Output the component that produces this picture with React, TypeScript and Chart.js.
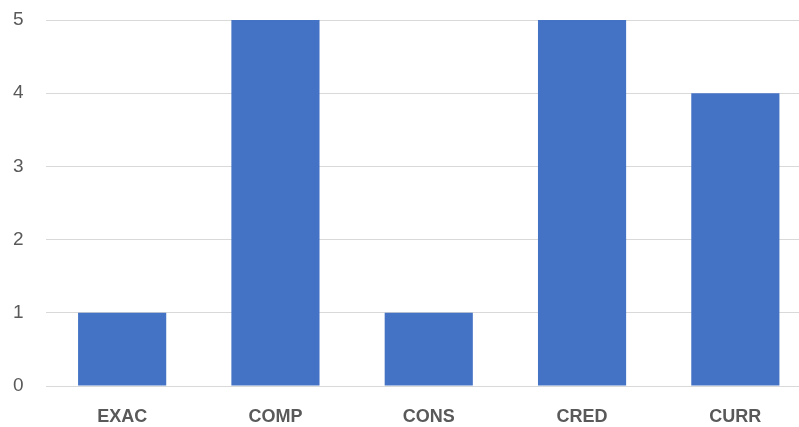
import React, { useEffect, useRef } from "react";
import { Chart, registerables } from "chart.js";

Chart.register(...registerables);

const categories = ["EXAC", "COMP", "CONS", "CRED", "CURR"];
const values = [1, 5, 1, 5, 4];
const yTicks = [0, 1, 2, 3, 4, 5];

export default function App() {
  const ref = useRef<HTMLCanvasElement | null>(null);
  useEffect(() => {
    document.body.style.margin = "0";
    document.body.style.overflow = "hidden";
    const chart = new Chart(ref.current!, {
      type: "bar",
      data: {
        labels: categories,
        datasets: [
          {
            data: values,
            backgroundColor: "#4472C4",
            barPercentage: 0.575,
            categoryPercentage: 1,
          },
        ],
      },
      options: {
        animation: false,
        responsive: false,
        maintainAspectRatio: false,
        layout: { padding: { top: 20, right: 0, left: 0, bottom: 0 } },
        plugins: { legend: { display: false }, tooltip: { enabled: false } },
        scales: {
          x: {
            grid: { display: false },
            border: { display: false },
            ticks: {
              color: "#595959",
              font: { family: "Liberation Sans", size: 18, weight: "bold" },
              padding: 12,
            },
            afterFit: (s: any) => {
              s.height = 41;
              s.paddingLeft = 0;
              s.paddingRight = 0;
            },
          },
          y: {
            min: 0,
            max: 5,
            afterBuildTicks: (s: any) => {
              s.ticks = yTicks.map((v) => ({ value: v }));
            },
            grid: { color: "#d9d9d9", lineWidth: 1, drawTicks: false },
            border: { display: false },
            ticks: {
              color: "#595959",
              font: { family: "Liberation Sans", size: 19 },
              padding: 22,
            },
            afterFit: (s: any) => {
              s.width = 45.5;
              s.paddingTop = 0;
              s.paddingBottom = 0;
            },
          },
        },
      },
    });
    return () => chart.destroy();
  }, []);
  return (
    <div style={{ position: "fixed", left: 0, top: 0, width: 799, height: 427, overflow: "hidden", background: "#fff" }}>
      <canvas ref={ref} width={812} height={427} style={{ width: 812, height: 427, display: "block" }} />
    </div>
  );
}
